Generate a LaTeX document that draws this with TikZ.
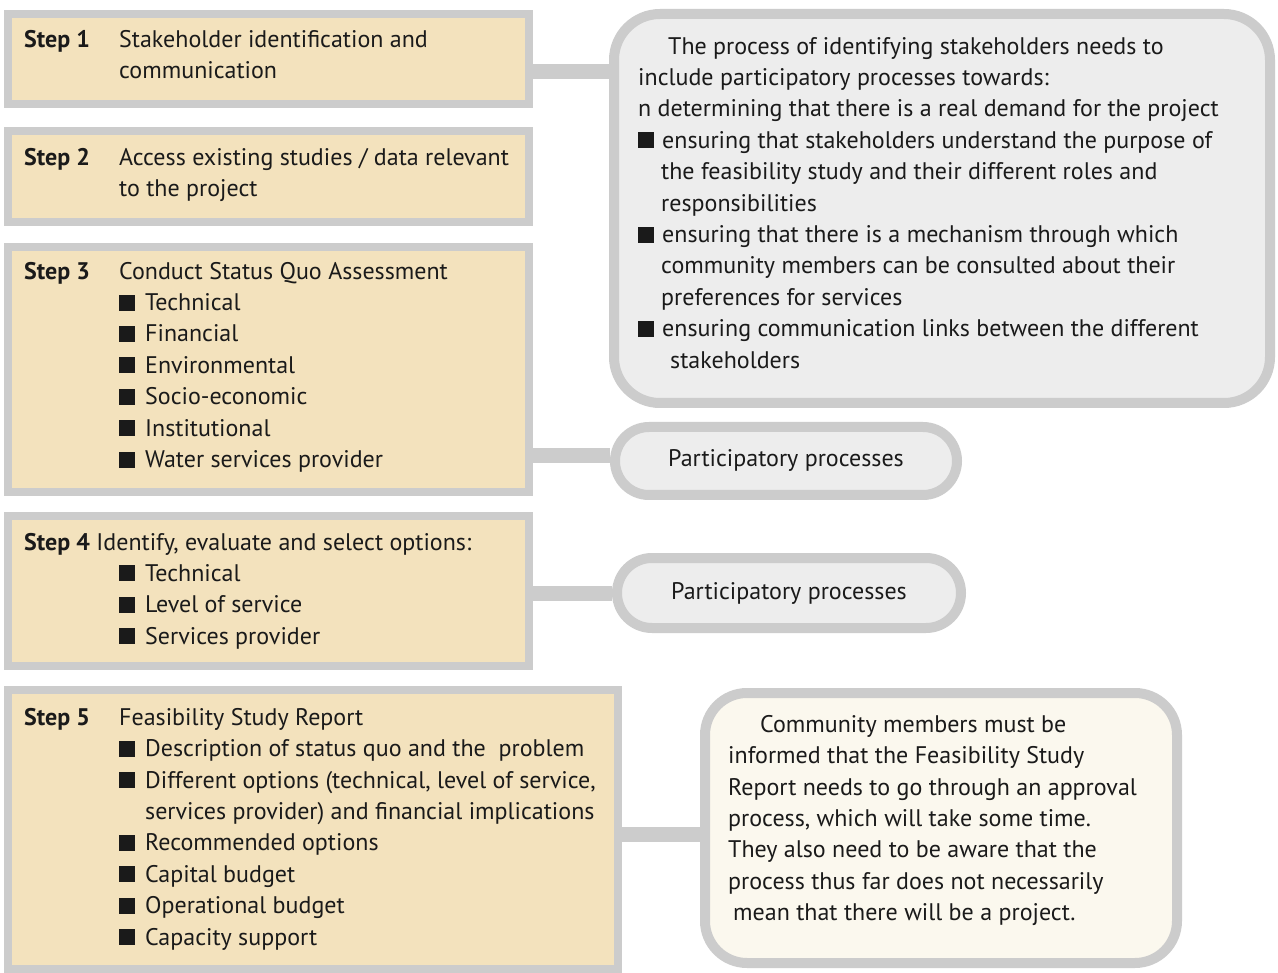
\documentclass[tikz,border=0pt]{standalone}
\usepackage{fontspec}
\setmainfont{PT Sans}
\usetikzlibrary{fit}
\definecolor{rim}{HTML}{CCCCCC}
\definecolor{beige}{HTML}{F3E2BD}
\definecolor{mist}{HTML}{EDEDED}
\definecolor{cream}{HTML}{FBF8EE}
\definecolor{ink}{HTML}{1A1A1A}
% square bullet followed by the gap before the item text
\newcommand\sqb[1][26]{\makebox[#1pt][l]{\rule{16pt}{16pt}}}
\newcommand\ind[1]{\hspace*{#1pt}}
\newcommand\fs{\rule{0pt}{22pt}}
\tikzset{
  stepbox/.style={draw=rim, line width=8pt, fill=beige, inner sep=0pt},
  callout/.style={draw=rim, line width=10pt, fill=mist, inner sep=0pt, rounded corners=#1},
  callout/.default=40pt,
  conn/.style={draw=rim, line width=15pt},
  txt/.style={anchor=north west, inner sep=0pt, align=left, text=ink,
    font=\fontsize{24}{31.4}\selectfont},
  plain/.style={inner sep=0pt, text=ink, font=\fontsize{24}{31.4}\selectfont},
}
\begin{document}
\begin{tikzpicture}[x=1pt,y=-1pt]
\useasboundingbox[fill=white] (0,0) rectangle (1278,973);

% the five steps
\node[stepbox, fit={(8,14) (529,104)}] (s1) {};
\node[stepbox, fit={(8,131) (529,222)}] (s2) {};
\node[stepbox, fit={(8,247) (529,492)}] (s3) {};
\node[stepbox, fit={(8,516) (529,666)}] (s4) {};
\node[stepbox, fit={(8,690) (618,969)}] (s5) {};

% notes on the right
\node[callout=46pt, fit={(614,14) (1270,403)}] (c1) {};
\node[callout=34pt, fit={(615,427) (957,495)}] (p1) {};
\node[callout=35pt, fit={(617,558) (961,628)}] (p2) {};
\node[callout=42pt, fill=cream, fit={(705,693) (1177,963)}] (c2) {};

% links from steps to notes
\draw[conn] (s1.east |- 0,72) -- (c1.west |- 0,72);
\draw[conn] (s3.east |- 0,456) -- (p1.west |- 0,456);
\draw[conn] (s4.east |- 0,593) -- (p2.west |- 0,593);
\draw[conn] (s5.east |- 0,834) -- (c2.west |- 0,834);

% step texts
\node[txt] (l1) at (24,25) {\fs\textbf{Step 1}};
\node[txt] (t1) at (119,25) {\fs Stakeholder identification and\\communication};

\node[txt] (l2) at (24,143) {\fs\textbf{Step 2}};
\node[txt] (t2) at (119,143) {\fs Access existing studies / data relevant\\to the project};

\node[txt] (l3) at (24,257) {\fs\textbf{Step 3}};
\node[txt] (t3) at (119,257) {\fs Conduct Status Quo Assessment\\
  \sqb Technical\\ \sqb Financial\\ \sqb Environmental\\
  \sqb Socio-economic\\ \sqb Institutional\\ \sqb Water services provider};

\node[txt] (l4) at (24,528) {\fs\textbf{Step 4} Identify, evaluate and select options:};
\node[txt] (t4) at (119,559) {\fs\sqb Technical\\ \sqb Level of service\\ \sqb Services provider};

\node[txt] (l5) at (24,703) {\fs\textbf{Step 5}};
\node[txt] (t5) at (119,703) {\fs Feasibility Study Report\\
  \sqb Description of status quo and the\ \ problem\\
  \sqb Different options (technical, level of service,\\
  \ind{26}services provider) and financial implications\\
  \sqb Recommended options\\ \sqb Capital budget\\
  \sqb Operational budget\\ \sqb Capacity support};

% note texts
\node[txt] (n1) at (638,32) {\fs\ind{30}The process of identifying stakeholders needs to\\
  include participatory processes towards:\\
  n determining that there is a real demand for the project\\
  \sqb[24]ensuring that stakeholders understand the purpose of\\
  \ind{23}the feasibility study and their different roles and\\
  \ind{23}responsibilities\\
  \sqb[24]ensuring that there is a mechanism through which\\
  \ind{23}community members can be consulted about their\\
  \ind{23}preferences for services\\
  \sqb[24]ensuring communication links between the different\\
  \ind{32}stakeholders};

\node[plain, anchor=base] (q1) at (p1.center |- 0,467) {Participatory processes};
\node[plain, anchor=base] (q2) at (p2.center |- 0,599) {Participatory processes};

\node[txt] (n2) at (728,710) {\fs\ind{32}Community members must be\\
  informed that the Feasibility Study\\
  Report needs to go through an approval\\
  process, which will take some time.\\
  They also need to be aware that the\\
  process thus far does not necessarily\\
  \ind{5}mean that there will be a project.};
\end{tikzpicture}
\end{document}
